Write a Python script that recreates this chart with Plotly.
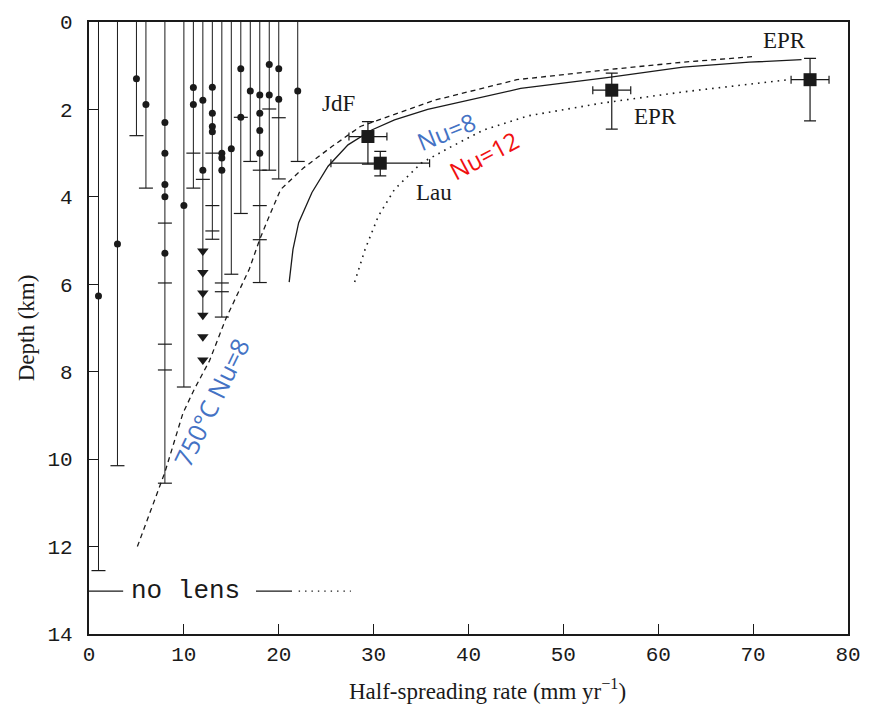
import plotly.graph_objects as go

# ---- Seismic observations: ridge segments by half-spreading rate (mm/yr) ----
rates = [1, 3, 5, 6, 8, 10, 11, 12, 13, 14, 15, 16, 17, 18, 19, 20, 22]
# depth (km) to which each profile was imaged without a lens
imaged_depth = [12.55, 10.15, 2.6, 3.8, 10.55, 8.35, 3.8, 6.75, 4.97, 6.75,
                5.77, 4.38, 3.19, 5.96, 3.39, 3.59, 3.19]
# end points of individual overlapping profiles
profile_ends = [
    [12.55], [10.15], [2.6], [3.8],
    [4.6, 5.97, 7.37, 7.96, 10.55],
    [8.35], [3.0, 3.8], [3.6],
    [3.0, 4.2, 4.78, 4.97],
    [5.97, 6.17, 6.75],
    [5.77], [2.18, 4.38], [3.19],
    [3.39, 4.2, 4.98, 5.96],
    [1.99, 3.39], [2.19, 3.59], [3.19],
]
# observed reflector depths (km)
reflector_depths = [
    [6.27], [5.08], [1.3], [1.89],
    [2.3, 3.0, 3.72, 4.0, 5.29],
    [4.2], [1.5, 1.89], [1.79, 3.39],
    [1.49, 2.09, 2.39, 2.51],
    [3.0, 3.11, 3.39],
    [2.9], [1.07, 2.18], [1.58],
    [1.67, 2.09, 2.48, 3.0],
    [0.97, 1.67], [1.07, 1.77], [1.58],
]
# lower bounds at 12 mm/yr
bound_rate = 12
bound_depths = [5.24, 5.73, 6.2, 6.71, 7.2, 7.73]

# ---- Model curves: depth of 1200°C isotherm vs spreading rate ----
nu8_750_rate = [5.1, 8.0, 9.9, 11.1, 12.7, 14.4, 16.9, 18.0, 19.0, 20.2, 22.6,
                25.6, 28.6, 31.5, 36.4, 42.7, 45.1, 55.6, 62.6, 70.1]
nu8_750_depth = [12.0, 10.3, 8.95, 8.4, 7.75, 6.8, 5.65, 4.97, 4.44, 3.83, 3.34,
                 2.85, 2.39, 2.17, 1.79, 1.45, 1.32, 1.07, 0.92, 0.79]
nu8_rate = [21.1, 21.5, 22.1, 23.5, 25.2, 27.3, 29.8, 32.2, 35.7, 40.9, 45.5,
            54.6, 62.6, 69.6, 75.1]
nu8_depth = [5.95, 5.2, 4.59, 3.9, 3.3, 2.81, 2.47, 2.24, 2.0, 1.75, 1.52,
             1.27, 1.03, 0.92, 0.86]
nu12_rate = [28.0, 29.1, 30.5, 32.2, 35.0, 38.2, 41.6, 46.2, 53.9, 62.6, 73.7]
nu12_depth = [5.95, 5.2, 4.44, 3.83, 3.23, 2.85, 2.47, 2.15, 1.86, 1.6, 1.32]

# ---- Lens depths at named ridges ----
site_rate = [29.4, 30.7, 55.1, 76.0]
site_depth = [2.62, 3.23, 1.56, 1.32]
site_rate_err = [2.0, 5.2, 2.0, 2.0]
site_depth_err_up = [0.34, 0.27, 0.39, 0.49]
site_depth_err_down = [0.63, 0.29, 0.89, 0.94]

site_labels = ["JdF", "Lau", "EPR", "EPR"]
site_label_rate = [26.3, 36.4, 59.7, 73.3]
site_label_depth = [1.86, 3.89, 2.16, 0.43]

# key row
key_depth = 13.02
key_profile_rate = [0, 3.6]
key_solid_rate = [17.6, 21.4]
key_dotted_rate = [22.1, 27.6]

INK = "#1a1a1a"
SERIF = "Liberation Serif"
MONO = "Liberation Mono"
BLUE = "#4472c4"
RED = "#f01010"

fig = go.Figure()

# vertical profile lines
vx, vy = [], []
for r, d in zip(rates, imaged_depth):
    vx += [r, r, None]
    vy += [0, d, None]
fig.add_trace(go.Scatter(x=vx, y=vy, mode="lines",
                         line=dict(color=INK, width=1), hoverinfo="skip"))

# profile end ticks
tx, ty = [], []
for r, ends in zip(rates, profile_ends):
    tx += [r] * len(ends)
    ty += ends
fig.add_trace(go.Scatter(x=tx, y=ty, mode="markers",
                         marker=dict(symbol="line-ew", size=10,
                                     line=dict(color=INK, width=1.2))))

# reflector dots
dx, dy = [], []
for r, ds in zip(rates, reflector_depths):
    dx += [r] * len(ds)
    dy += ds
fig.add_trace(go.Scatter(x=dx, y=dy, mode="markers",
                         marker=dict(symbol="circle", size=7, color=INK)))

# lower bounds
fig.add_trace(go.Scatter(x=[bound_rate] * len(bound_depths), y=bound_depths,
                         mode="markers",
                         marker=dict(symbol="triangle-down", size=10, color=INK)))

# model curves
fig.add_trace(go.Scatter(x=nu8_750_rate, y=nu8_750_depth, mode="lines",
                         line=dict(color=INK, width=1.3, dash="5px,4px")))
fig.add_trace(go.Scatter(x=nu8_rate, y=nu8_depth, mode="lines",
                         line=dict(color=INK, width=1.3)))
fig.add_trace(go.Scatter(x=nu12_rate, y=nu12_depth, mode="lines",
                         line=dict(color=INK, width=1.6, dash="1.6px,5px")))

# ridge sites with error bars
fig.add_trace(go.Scatter(
    x=site_rate, y=site_depth, mode="markers",
    marker=dict(symbol="square", size=13, color=INK),
    error_x=dict(type="data", array=site_rate_err, color=INK,
                 thickness=1.2, width=4),
    error_y=dict(type="data", array=site_depth_err_down,
                 arrayminus=site_depth_err_up, color=INK,
                 thickness=1.2, width=6),
))

# key row
fig.add_trace(go.Scatter(x=key_profile_rate, y=[key_depth] * 2, mode="lines",
                         line=dict(color=INK, width=1.2)))
fig.add_trace(go.Scatter(x=key_solid_rate, y=[key_depth] * 2, mode="lines",
                         line=dict(color=INK, width=1.2)))
fig.add_trace(go.Scatter(x=key_dotted_rate, y=[key_depth] * 2, mode="lines",
                         line=dict(color=INK, width=1.3, dash="1.4px,5px")))

annotations = []
for lab, x, y in zip(site_labels, site_label_rate, site_label_depth):
    annotations.append(dict(x=x, y=y, text=lab, showarrow=False,
                            font=dict(family=SERIF, size=23, color=INK)))
annotations.append(dict(x=10.2, y=key_depth, text="no lens", showarrow=False,
                        font=dict(family=MONO, size=26, color=INK)))
annotations += [
    dict(x=37.6, y=2.5, text="Nu=8", showarrow=False, textangle=-22,
         font=dict(family="Open Sans", size=24, color=BLUE)),
    dict(x=41.6, y=3.05, text="Nu=12", showarrow=False, textangle=-28,
         font=dict(family="Open Sans", size=24, color=RED)),
    dict(x=12.9, y=8.7, text="750°C Nu=8", showarrow=False, textangle=-64,
         font=dict(family="Open Sans", size=25, color=BLUE)),
    # x-axis title, set slightly right of the axis centre
    dict(xref="paper", yref="paper", x=0.525, y=-0.09, yanchor="middle",
         text="Half-spreading rate (mm yr<sup>−1</sup>)", showarrow=False,
         font=dict(family=SERIF, size=23, color=INK)),
]

fig.update_layout(
    width=873, height=707,
    margin=dict(l=89, r=20, t=17, b=73),
    paper_bgcolor="white", plot_bgcolor="white",
    showlegend=False,
    annotations=annotations,
    xaxis=dict(range=[0, 80], dtick=10, tick0=0, ticks="inside", ticklen=10,
               tickwidth=1.2, tickcolor=INK, showgrid=False, zeroline=False,
               showline=True, linecolor=INK, linewidth=1.6, mirror=True,
               ticklabelstandoff=0,
               tickfont=dict(family=MONO, size=21, color=INK)),
    yaxis=dict(range=[14, 0], dtick=2, tick0=0, ticks="inside", ticklen=10,
               tickwidth=1.2, tickcolor=INK, showgrid=False, zeroline=False,
               showline=True, linecolor=INK, linewidth=2.2, mirror=True,
               ticklabelstandoff=10,
               tickfont=dict(family=MONO, size=21, color=INK),
               title=dict(text="Depth (km)",
                          font=dict(family=SERIF, size=23, color=INK),
                          standoff=6)),
)

fig.write_html("out.html")
